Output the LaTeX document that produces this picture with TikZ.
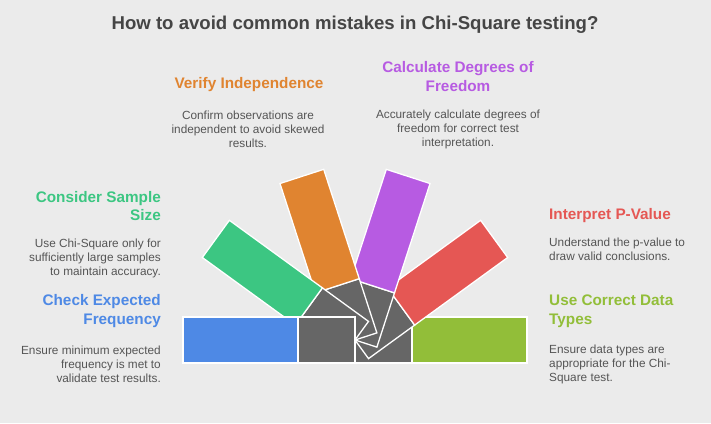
\documentclass[tikz,border=0pt]{standalone}
\usepackage{fontspec}
\setmainfont{Liberation Sans}
\definecolor{bgcol}{HTML}{EBEBEB}
\definecolor{titlecol}{HTML}{454545}
\definecolor{txtgrey}{HTML}{555555}
\definecolor{armgrey}{HTML}{666666}
\definecolor{freqblue}{HTML}{4E89E5}
\definecolor{sizegreen}{HTML}{3CC682}
\definecolor{indeporange}{HTML}{E08430}
\definecolor{dofpurple}{HTML}{B75BE2}
\definecolor{pvalred}{HTML}{E55754}
\definecolor{typelime}{HTML}{92BE39}
\newcommand{\fanarm}[2]{%
    \begin{scope}[shift={(355,340)}, rotate=#1]
        \draw[armline, fill=armgrey] (0,-23) rectangle (57,23);
        \draw[armline, fill=#2] (57,-23) rectangle (172,23);
    \end{scope}}
\begin{document}
\begin{tikzpicture}[x=1pt, y=-1pt,
        armline/.style = {draw=white, line width=1.3pt, line join=miter},
        head/.style = {inner sep=0pt, font=\fontsize{15.3}{18.5}\selectfont\bfseries},
        body/.style = {inner sep=0pt, text=txtgrey, font=\fontsize{11.8}{14}\selectfont}]
    \fill[bgcol] (0,0) rectangle (711,423);
    \useasboundingbox (0,0) rectangle (711,423);
    \node[inner sep=0pt, text=titlecol, font=\fontsize{18.6}{22}\selectfont\bfseries] (title) at (355,25) {How to avoid common mistakes in Chi-Square testing?};
    \fanarm{0}{typelime}
    \fanarm{36}{pvalred}
    \fanarm{72}{dofpurple}
    \fanarm{108}{indeporange}
    \fanarm{144}{sizegreen}
    \fanarm{180}{freqblue}
    \node[head, text=indeporange] (indephead) at (249,85) {Verify Independence};
    \node[body, align=center] (indepbody) at (248,129) {Confirm observations are\\independent to avoid skewed\\results.};
    \node[head, text=dofpurple, align=center] (dofhead) at (458,76.5) {Calculate Degrees of\\Freedom};
    \node[body, align=center] (dofbody) at (458,129) {Accurately calculate degrees of\\freedom for correct test\\interpretation.};
    \node[head, text=sizegreen, align=right, anchor=east] (sizehead) at (161,206) {Consider Sample\\Size};
    \node[body, align=right, anchor=east] (sizebody) at (161,258.5) {Use Chi-Square only for\\sufficiently large samples\\to maintain accuracy.};
    \node[head, text=freqblue, align=right, anchor=east] (freqhead) at (161,311) {Check Expected\\Frequency};
    \node[body, align=right, anchor=east] (freqbody) at (161,364) {Ensure minimum expected\\frequency is met to\\validate test results.};
    \node[head, text=pvalred, anchor=west] (pvalhead) at (549,215.7) {Interpret P-Value};
    \node[body, align=left, anchor=west] (pvalbody) at (549,249) {Understand the p-value to\\draw valid conclusions.};
    \node[head, text=typelime, align=left, anchor=west] (typehead) at (549,311) {Use Correct Data\\Types};
    \node[body, align=left, anchor=west] (typebody) at (549,364) {Ensure data types are\\appropriate for the Chi-\\Square test.};
\end{tikzpicture}
\end{document}
